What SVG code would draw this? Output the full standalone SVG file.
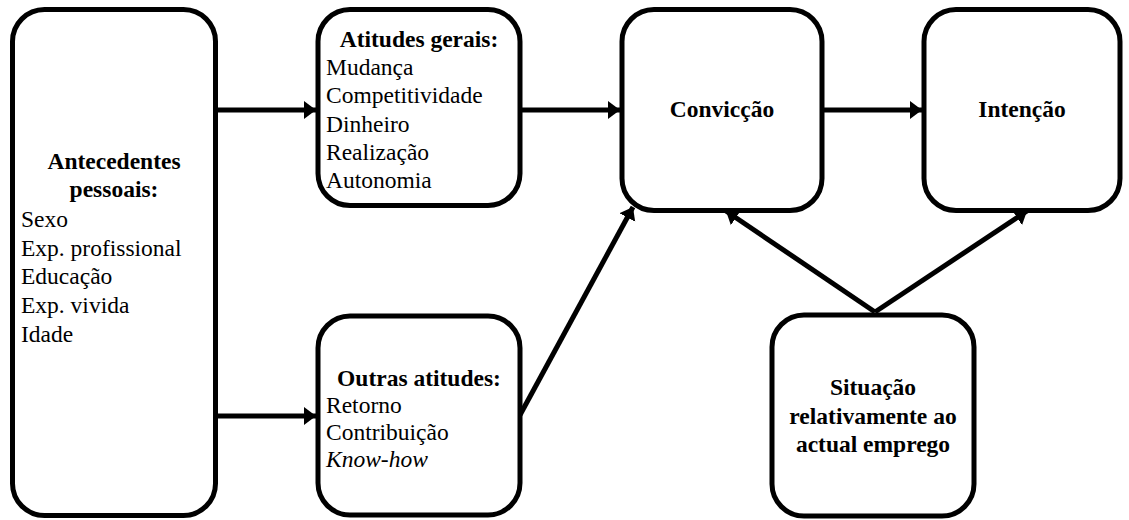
<svg xmlns="http://www.w3.org/2000/svg" width="1129" height="520" viewBox="0 0 1129 520">
<defs>
<marker id="ah" markerUnits="userSpaceOnUse" markerWidth="14" markerHeight="20" refX="12" refY="9" orient="auto" viewBox="0 0 14 18">
<path d="M0,0 L12,9 L0,18 z" fill="#000"/>
</marker>
</defs>
<style>
.box{fill:#fff;stroke:#000;stroke-width:5}
text{font-family:'Liberation Serif','Times New Roman',Times,serif;font-size:23.5px;fill:#000}
.b{font-weight:bold;text-anchor:middle}
.i{font-style:italic}
.c{fill:none;stroke:#000;stroke-width:5}
</style>
<rect width="1129" height="520" fill="#fff"/>
<g id="connectors">
<line class="c" x1="215" y1="110" x2="316" y2="110" marker-end="url(#ah)"/>
<line class="c" x1="215" y1="416" x2="316" y2="416" marker-end="url(#ah)"/>
<line class="c" x1="520" y1="110" x2="620" y2="110" marker-end="url(#ah)"/>
<line class="c" x1="822" y1="110" x2="922" y2="110" marker-end="url(#ah)"/>
<line class="c" x1="520" y1="415" x2="633" y2="207" marker-end="url(#ah)"/>
<line class="c" x1="875" y1="312" x2="726" y2="211" marker-end="url(#ah)"/>
<line class="c" x1="875" y1="312" x2="1027" y2="211" marker-end="url(#ah)"/>
</g>
<g id="antecedentes">
<rect class="box" x="12.5" y="9.5" width="203" height="506" rx="32"/>
<text class="b" x="114" y="169">Antecedentes</text>
<text class="b" x="114" y="197">pessoais:</text>
<text x="21" y="227">Sexo</text>
<text x="21" y="256">Exp. profissional</text>
<text x="21" y="284">Educação</text>
<text x="21" y="313">Exp. vivida</text>
<text x="21" y="342">Idade</text>
</g>
<g id="atitudes-gerais">
<rect class="box" x="318" y="9.5" width="202" height="196" rx="32"/>
<text class="b" x="419" y="47">Atitudes gerais:</text>
<text x="326" y="75">Mudança</text>
<text x="326" y="103">Competitividade</text>
<text x="326" y="132">Dinheiro</text>
<text x="326" y="160">Realização</text>
<text x="326" y="188">Autonomia</text>
</g>
<g id="outras-atitudes">
<rect class="box" x="318" y="316" width="202" height="199" rx="32"/>
<text class="b" x="419" y="386">Outras atitudes:</text>
<text x="326" y="413">Retorno</text>
<text x="326" y="440">Contribuição</text>
<text class="i" x="326" y="467">Know-how</text>
</g>
<g id="conviccao">
<rect class="box" x="622" y="9.5" width="200" height="201" rx="32"/>
<text class="b" x="722" y="117">Convicção</text>
</g>
<g id="intencao">
<rect class="box" x="924" y="9.5" width="196" height="201" rx="32"/>
<text class="b" x="1022" y="117">Intenção</text>
</g>
<g id="situacao">
<rect class="box" x="772" y="315" width="202" height="201" rx="32"/>
<text class="b" x="873" y="395">Situação</text>
<text class="b" x="873" y="424">relativamente ao</text>
<text class="b" x="873" y="452">actual emprego</text>
</g>
</svg>
